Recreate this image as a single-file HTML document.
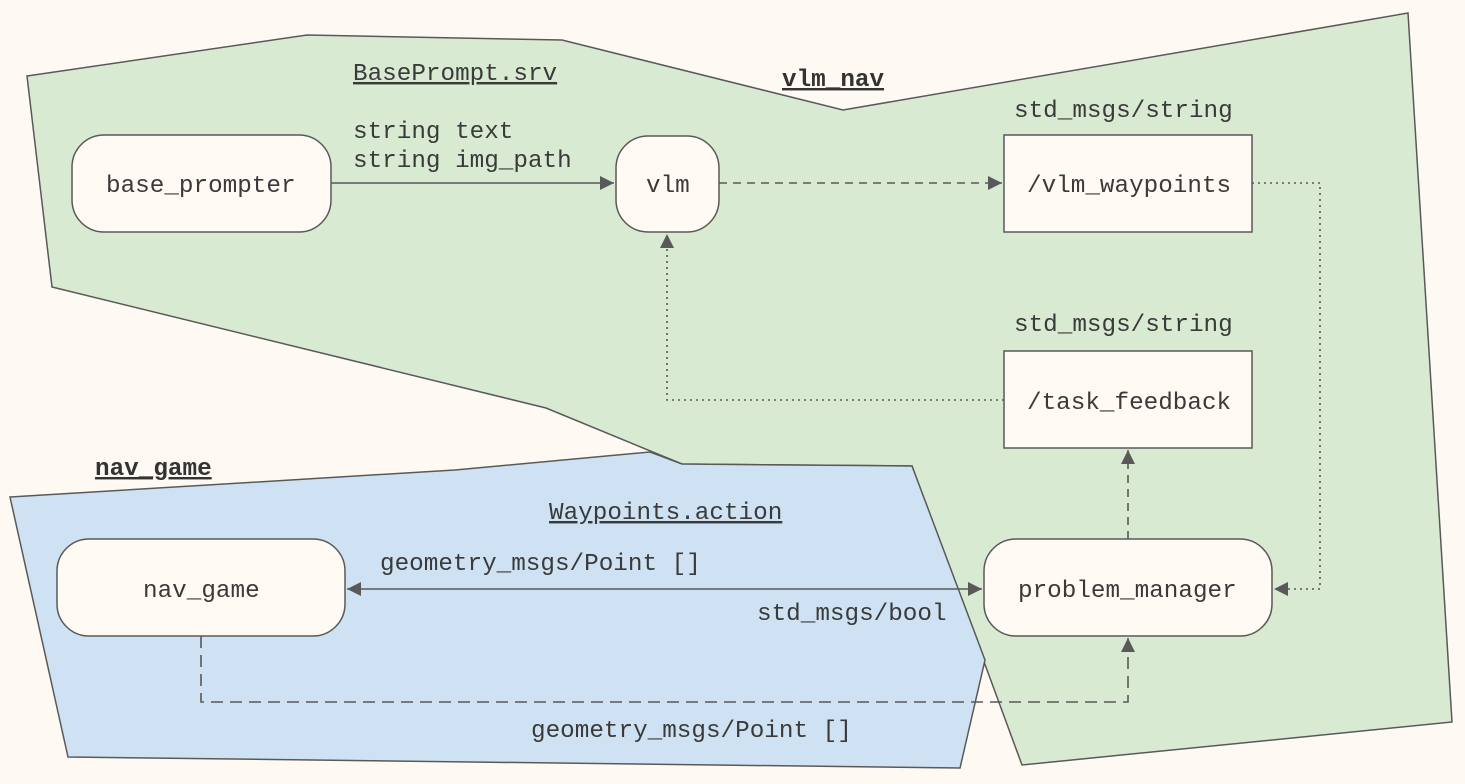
<!DOCTYPE html>
<html><head><meta charset="utf-8"><style>
html,body{margin:0;padding:0;background:#fefaf3;}
svg{display:block;}
text{font-family:"Liberation Mono","DejaVu Sans Mono",monospace;font-size:24.3px;fill:#3a3a3a;}
.b{font-weight:bold;font-size:24.3px;fill:#333;}
</style></head><body>
<svg width="1465" height="784" viewBox="0 0 1465 784" xmlns="http://www.w3.org/2000/svg">
<defs>
<marker id="m" viewBox="0 0 10 10" refX="10" refY="5" markerWidth="16" markerHeight="14" orient="auto-start-reverse" markerUnits="userSpaceOnUse">
<path d="M0,0 L10,5 L0,10 z" fill="#595959"/></marker>
</defs>
<polygon points="27,76 307,35 562,40 843,110 1408,13 1452,722 1022,765 912,466 682,464 546,408 52,287" fill="#d9ead3" stroke="#595959" stroke-width="1.5"/>
<polygon points="10,497 455,470 650,452 682,464 912,466 985,660 960,768 68,757" fill="#cfe2f3" stroke="#595959" stroke-width="1.5"/>

<g fill="#fffaf3" stroke="#595959" stroke-width="1.5">
<rect x="72" y="135" width="259" height="97" rx="32"/>
<rect x="616" y="136" width="103" height="96" rx="32"/>
<rect x="1004" y="135" width="248" height="97"/>
<rect x="1004" y="351" width="248" height="97"/>
<rect x="57" y="539" width="288" height="97" rx="32"/>
<rect x="984" y="539" width="288" height="97" rx="32"/>
</g>

<g stroke="#595959" stroke-width="1.6" fill="none">
<line x1="331" y1="183" x2="614" y2="183" marker-end="url(#m)"/>
<line x1="719" y1="183" x2="1002" y2="183" stroke-dasharray="8,6" marker-end="url(#m)"/>
<polyline points="1252,183 1320,183 1320,589 1274,589" stroke-dasharray="2,4" marker-end="url(#m)"/>
<polyline points="1004,400 667,400 667,234" stroke-dasharray="2,4" marker-end="url(#m)"/>
<line x1="1128" y1="539" x2="1128" y2="450" stroke-dasharray="8,6" marker-end="url(#m)"/>
<line x1="347" y1="589" x2="982" y2="589" marker-start="url(#m)" marker-end="url(#m)"/>
<polyline points="201,636 201,702 1128,702 1128,638" stroke-dasharray="12,7" marker-end="url(#m)"/>
</g>

<text x="106" y="192">base_prompter</text>
<text x="646" y="192">vlm</text>
<text x="1027" y="192">/vlm_waypoints</text>
<text x="1027" y="409">/task_feedback</text>
<text x="143" y="597">nav_game</text>
<text x="1018" y="597">problem_manager</text>

<text x="353" y="80" text-decoration="underline">BasePrompt.srv</text>
<text x="353" y="138">string text</text>
<text x="353" y="167">string img_path</text>
<text x="782" y="86" class="b" text-decoration="underline">vlm_nav</text>
<text x="1014" y="117">std_msgs/string</text>
<text x="1014" y="331">std_msgs/string</text>
<text x="95" y="475" class="b" text-decoration="underline">nav_game</text>
<text x="549" y="519" text-decoration="underline">Waypoints.action</text>
<text x="380" y="570">geometry_msgs/Point []</text>
<text x="757" y="620">std_msgs/bool</text>
<text x="531" y="737">geometry_msgs/Point []</text>
</svg>
</body></html>
